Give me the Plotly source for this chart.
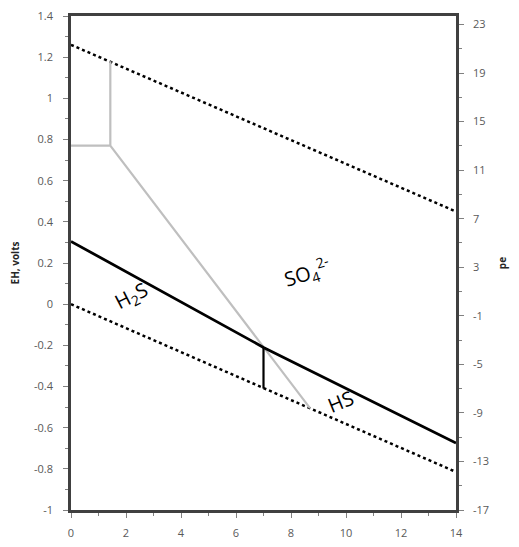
import plotly.graph_objects as go

# ---- data (pH, Eh volts) ----
o2_ph = [0, 14]
o2_eh = [1.26, 0.45]
h2_ph = [0, 14]
h2_eh = [0.0, -0.815]
sulf_ph = [0, 7.0, 14]
sulf_eh = [0.305, -0.21, -0.675]
vert_ph = [7.0, 7.0]
vert_eh = [-0.21, -0.41]
gray_ph = [0, 1.43, 1.43, 1.43, 8.69]
gray_eh = [0.77, 0.77, 1.18, 0.77, -0.505]

eh_ticks = [-1, -0.8, -0.6, -0.4, -0.2, 0, 0.2, 0.4, 0.6, 0.8, 1, 1.2, 1.4]
eh_labels = ["-1", "-0.8", "-0.6", "-0.4", "-0.2", "0", "0.2", "0.4", "0.6", "0.8", "1", "1.2", "1.4"]
pe_ticks = [-17, -13, -9, -5, -1, 3, 7, 11, 15, 19, 23]
pe_labels = ["-17", "-13", "-9", "-5", "-1", "3", "7", "11", "15", "19", "23"]
ph_ticks = [0, 2, 4, 6, 8, 10, 12, 14]

labels = [
    dict(text="SO<sub>4</sub><sup>2-</sup>", x=8.6, y=0.15, angle=-17),
    dict(text="H<sub>2</sub>S", x=2.2, y=0.035, angle=-27),
    dict(text="HS", x=9.8, y=-0.475, angle=-22),
]

axis_color = "#404040"
fam = "Open Sans, Liberation Sans, sans-serif"
tick_font = dict(family=fam, size=11, color="#595959")

fig = go.Figure()
fig.add_trace(go.Scatter(x=o2_ph, y=o2_eh, mode="lines",
                         line=dict(color="black", width=2.5, dash="dot"), hoverinfo="skip"))
fig.add_trace(go.Scatter(x=h2_ph, y=h2_eh, mode="lines",
                         line=dict(color="black", width=2.5, dash="dot"), hoverinfo="skip"))
fig.add_trace(go.Scatter(x=gray_ph, y=gray_eh, mode="lines",
                         line=dict(color="#bfbfbf", width=2.2), hoverinfo="skip"))
fig.add_trace(go.Scatter(x=sulf_ph, y=sulf_eh, mode="lines",
                         line=dict(color="black", width=2.8), hoverinfo="skip"))
fig.add_trace(go.Scatter(x=vert_ph, y=vert_eh, mode="lines",
                         line=dict(color="black", width=2.2), hoverinfo="skip"))
# invisible trace to activate secondary axis
fig.add_trace(go.Scatter(x=[0], y=[0], yaxis="y2", mode="markers",
                         marker=dict(opacity=0), hoverinfo="skip"))

for lb in labels:
    fig.add_annotation(x=lb["x"], y=lb["y"], text=lb["text"], textangle=lb["angle"],
                       showarrow=False,
                       font=dict(family=fam, size=20, color="black"))

fig.update_layout(
    width=511, height=539,
    margin=dict(l=63, r=63, t=8, b=37),
    paper_bgcolor="white", plot_bgcolor="white",
    showlegend=False,
    xaxis=dict(range=[0, 14], tickvals=ph_ticks, showgrid=False, zeroline=False,
               showline=True, linewidth=2.5, linecolor=axis_color, mirror=True,
               ticks="outside", ticklen=5, tickwidth=1, tickcolor="#808080",
               minor=dict(dtick=1, ticks="outside", ticklen=3, tickcolor="#808080"),
               ticklabelstandoff=6, automargin=False, ticklabeloverflow="allow",
               tickfont=tick_font),
    yaxis=dict(range=[-1, 1.4], tickvals=eh_ticks, ticktext=eh_labels,
               showgrid=False, zeroline=False,
               showline=True, linewidth=2.5, linecolor=axis_color,
               ticks="outside", ticklen=5, tickwidth=1, tickcolor="#808080",
               minor=dict(dtick=0.1, tick0=0, ticks="outside", ticklen=3, tickcolor="#808080"),
               ticklabelstandoff=8, automargin=False, ticklabeloverflow="allow",
               tickfont=tick_font,
               title=dict(text="<b>EH, volts</b>", standoff=15,
                          font=dict(family=fam, size=10, color="#262626"))),
    yaxis2=dict(range=[-17, 23.7], overlaying="y", side="right", anchor="x",
                tickvals=pe_ticks, ticktext=pe_labels, showgrid=False, zeroline=False,
                showline=True, linewidth=2.5, linecolor=axis_color,
                ticks="outside", ticklen=5, tickwidth=1, tickcolor="#808080",
                minor=dict(dtick=2, tick0=-17, ticks="outside", ticklen=3, tickcolor="#808080"),
                ticklabelstandoff=7, automargin=False, ticklabeloverflow="allow",
                tickfont=tick_font,
                title=dict(text="<b>pe</b>", standoff=11,
                           font=dict(family=fam, size=10, color="#262626"))),
)

fig.write_html("out.html")
